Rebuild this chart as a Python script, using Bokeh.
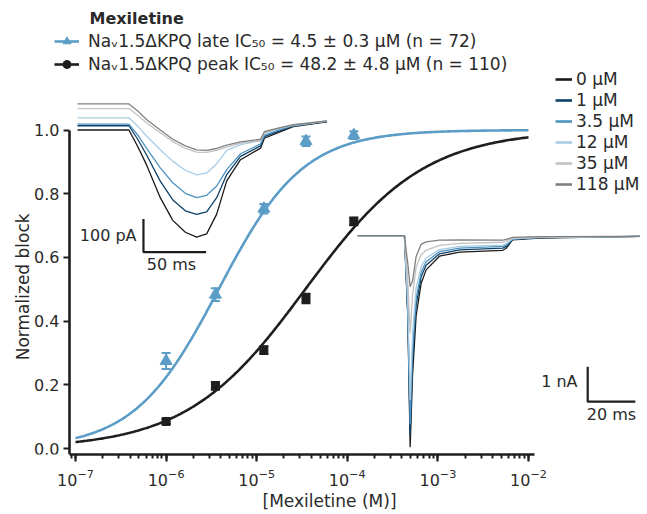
import numpy as np
from bokeh.plotting import figure
from bokeh.models import (Range1d, LinearScale, FixedTicker, LogTicker, Label, Title,
                          Legend, LegendItem, PrintfTickFormatter)
from bokeh.embed import file_html
from bokeh.resources import INLINE

# ---------------- data ----------------
conc_M = [1e-6, 3.5e-6, 12e-6, 35e-6, 118e-6]
late_block = [0.275, 0.483, 0.753, 0.965, 0.984]
late_err = [0.025, 0.02, 0.015, 0.015, 0.012]
peak_block = [0.085, 0.197, 0.309, 0.471, 0.713]
peak_err = [0.008, 0.012, 0.012, 0.015, 0.012]

# Hill fit parameters
late_fit_ic50, late_fit_n = 3.8e-6, 0.93
peak_fit_ic50, peak_fit_n = 3.44e-5, 0.662

legend_title = "Mexiletine"
late_label = "Naᵥ1.5ΔKPQ late IC₅₀ = 4.5 ± 0.3 µM (n = 72)"
peak_label = "Naᵥ1.5ΔKPQ peak IC₅₀ = 48.2 ± 4.8 µM (n = 110)"
y_title = "Normalized block"
x_title = "[Mexiletine (M)]"

trace_labels = ["0 µM", "1 µM", "3.5 µM", "12 µM", "35 µM", "118 µM"]
trace_colors = ["#1a1a1a", "#0e4168", "#4f93c0", "#a8cde4", "#c2c2c2", "#808080"]

# late-current traces (ms, pA)
late_t = [0, 41, 48, 55, 66, 76, 86, 95, 103, 111, 119, 130, 146, 149, 160, 172, 199]
late_I = [
    [0, 0, -50, -105, -205, -274, -310, -325, -315, -255, -154, -90, -55, -25, -8, 10, 25],
    [13, 13, -28, -75, -155, -212, -245, -256, -248, -205, -135, -80, -48, -20, -4, 12, 26],
    [18, 18, -15, -55, -115, -160, -192, -205, -198, -170, -120, -72, -42, -16, 0, 13, 26],
    [37, 37, 12, -18, -60, -95, -122, -136, -130, -102, -62, -44, -32, -10, 4, 14, 27],
    [65, 65, 45, 22, -8, -35, -56, -67, -68, -62, -52, -40, -32, -8, 5, 15, 28],
    [79, 79, 58, 32, 0, -28, -48, -60, -62, -56, -46, -36, -28, -5, 6, 16, 28],
]

# peak-current traces (ms, nA)
peak_t = [0, 19.6, 21.0, 22.0, 23.0, 24.5, 26.6, 28.7, 34.3, 42.8, 60.9, 62.4, 65.0, 76.3, 121.0]
peak_I = [
    [0, 0, -2.3, -6.05, -4.0, -2.3, -1.37, -0.98, -0.59, -0.47, -0.42, -0.36, -0.12, -0.07, -0.02],
    [0, 0, -2.2, -5.7, -3.6, -2.0, -1.18, -0.85, -0.52, -0.41, -0.36, -0.31, -0.11, -0.06, -0.02],
    [0, 0, -2.1, -5.4, -3.3, -1.8, -1.05, -0.75, -0.46, -0.36, -0.31, -0.27, -0.10, -0.06, -0.02],
    [0, 0, -1.9, -4.7, -2.8, -1.5, -0.90, -0.64, -0.40, -0.31, -0.27, -0.23, -0.09, -0.05, -0.02],
    [0, 0, -1.3, -2.8, -1.7, -0.9, -0.55, -0.42, -0.28, -0.22, -0.19, -0.16, -0.07, -0.04, -0.02],
    [0, 0, -0.8, -1.46, -1.3, -0.6, -0.25, -0.18, -0.13, -0.12, -0.13, -0.11, -0.05, -0.03, -0.02],
]

bar1_pA, bar1_ms = 100, 50
bar2_nA, bar2_ms = 1, 20

# ---------------- layout (page pixels) ----------------
ORG = 1                                      # page position of the figure origin
W, H = 640, 510
F_L, F_T, F_B = ORG, 8, 459.3                # frame edges on the page
F_R = ORG + W
AX_L = 70                                    # where the y axis line is drawn
X0_PX, DEC_PX = 76, 90.6                     # 1e-7 position, pixels per decade
Y0_PX, UNIT_PX = 453.3, 321.6                # y=0 position, pixels per unit

def lin_range(px0, scale, lo, hi):
    return Range1d((lo - px0) / scale, (hi - px0) / scale)

def x_at(px):
    return 10 ** (-7 + (px - X0_PX) / DEC_PX)

x_start, x_end = x_at(F_L), x_at(F_R)
y_start = (Y0_PX - F_B) / UNIT_PX
y_end = (Y0_PX - F_T) / UNIT_PX

FONT = "DejaVu Sans"
TXT = "#2a2a2a"
BLUE = "#5b9dc6"
BLACK = "#1e1e1e"

p = figure(width=W, height=H, x_axis_type="log",
           x_range=Range1d(x_start, x_end), y_range=Range1d(y_start, y_end),
           output_backend="svg", toolbar_location=None,
           min_border_left=F_L - ORG, min_border_right=0, min_border_top=F_T - ORG,
           min_border_bottom=int(round(ORG + H - F_B)))
p.outline_line_color = None
p.grid.visible = False
p.background_fill_color = "white"

# inset 1: page x = 78 + 1.254*t ; page y = 131.7 - 0.333*I
# inset 2: page x = 358.3 + 2.38*t ; page y = 238.3 - 35.3*I
p.extra_x_ranges = {
    "px": Range1d(F_L, F_R),
    "t1": lin_range(78, 1.254, F_L, F_R),
    "t2": lin_range(358.3, 2.38, F_L, F_R),
}
p.extra_y_ranges = {
    "py": Range1d(F_B, F_T),
    "i1": Range1d((131.7 - F_B) / 0.333, (131.7 - F_T) / 0.333),
    "i2": Range1d((238.3 - F_B) / 35.3, (238.3 - F_T) / 35.3),
}
p.extra_x_scales = {"px": LinearScale(), "t1": LinearScale(), "t2": LinearScale()}
p.extra_y_scales = {"py": LinearScale(), "i1": LinearScale(), "i2": LinearScale()}

# ---------------- traces ----------------
for I, c in zip(late_I, trace_colors):
    p.line(late_t, I, line_color=c, line_width=1.3, x_range_name="t1", y_range_name="i1")
for I, c in zip(peak_I, trace_colors):
    p.line(peak_t, I, line_color=c, line_width=1.3, x_range_name="t2", y_range_name="i2")

# scale bars
sb1_t, sb1_i = 52.6, -370
p.line([sb1_t, sb1_t, sb1_t + bar1_ms], [sb1_i + bar1_pA, sb1_i, sb1_i],
       line_color=BLACK, line_width=2.2, x_range_name="t1", y_range_name="i1")
sb2_t, sb2_i = 96.6, -4.75
p.line([sb2_t, sb2_t, sb2_t + bar2_ms], [sb2_i + bar2_nA, sb2_i, sb2_i],
       line_color=BLACK, line_width=2.2, x_range_name="t2", y_range_name="i2")

# ---------------- fits ----------------
xs = np.logspace(-7, -2, 300)
late_fit = 1.0 / (1.0 + (late_fit_ic50 / xs) ** late_fit_n)
peak_fit = 1.0 / (1.0 + (peak_fit_ic50 / xs) ** peak_fit_n)
p.line(xs, peak_fit, line_color=BLACK, line_width=2.6)
p.line(xs, late_fit, line_color=BLUE, line_width=2.6)

# ---------------- data points with error bars ----------------
for yv, ev, col in ((late_block, late_err, BLUE), (peak_block, peak_err, BLACK)):
    lo = [a - b for a, b in zip(yv, ev)]
    hi = [a + b for a, b in zip(yv, ev)]
    p.segment(conc_M, lo, conc_M, hi, line_color=col, line_width=2)
    p.scatter(conc_M, lo, marker="dash", size=9, line_color=col, line_width=2)
    p.scatter(conc_M, hi, marker="dash", size=9, line_color=col, line_width=2)
p.scatter(conc_M, late_block, marker="triangle", size=12, fill_color=BLUE, line_color=BLUE)
p.scatter(conc_M, peak_block, marker="square", size=8, fill_color=BLACK, line_color=BLACK)

# ---------------- axes ----------------
xa = p.xaxis[0]
xa.ticker = LogTicker(num_minor_ticks=10)
xa.bounds = (x_at(AX_L), 10 ** (-2 + 6 / DEC_PX))
ya = p.yaxis[0]
ya.ticker = FixedTicker(ticks=[0, 0.2, 0.4, 0.6, 0.8, 1.0], minor_ticks=[])
ya.formatter = PrintfTickFormatter(format="%.1f")
ya.bounds = (y_start, 1.0)
ya.fixed_location = x_at(AX_L)
for ax in (xa, ya):
    ax.axis_line_width = 2.6
    ax.axis_line_color = BLACK
    ax.major_tick_line_width = 2.2
    ax.minor_tick_line_width = 2.0
    ax.major_tick_line_color = BLACK
    ax.minor_tick_line_color = BLACK
    ax.major_tick_in = 0
    ax.minor_tick_in = 0
    ax.major_label_text_font = FONT
    ax.major_label_text_font_size = "16px"
    ax.major_label_text_color = TXT
xa.major_tick_out = 7
xa.minor_tick_out = 4
xa.major_label_standoff = 7
ya.major_tick_out = 6
ya.major_label_standoff = 4

# x axis title as an offset title so it sits where the reference has it
p.add_layout(Title(text=x_title, align="left", offset=263 - F_L,
                   text_font=FONT, text_font_size="17px", text_font_style="normal",
                   text_color=TXT, standoff=0), "below")

def px_label(text, x, y, align="left", size="16px", style="normal", angle=0.0):
    p.add_layout(Label(x=x, y=y, text=text, x_range_name="px", y_range_name="py",
                       text_align=align, text_baseline="middle", angle=angle,
                       text_font=FONT, text_font_size=size, text_font_style=style,
                       text_color=TXT))

px_label(y_title, 23, 290, align="center", size="17px", angle=np.pi / 2)
px_label(legend_title, 90, 19, style="bold")
px_label("100 pA", 137, 238, align="right")
px_label("50 ms", 172, 267, align="center")
px_label("1 nA", 578, 386, align="right")
px_label("20 ms", 612, 419, align="center")

# ---------------- legends ----------------
# legend-only renderers, kept off the visible area
OFF_X, OFF_Y = [1e-12, 2e-12], [-5, -5]
leg_peak_line = p.line(OFF_X, OFF_Y, line_color=BLACK, line_width=2.6)
leg_peak_mark = p.scatter(OFF_X[:1], OFF_Y[:1], marker="circle", size=9,
                          fill_color=BLACK, line_color=BLACK)
leg_late_line = p.line(OFF_X, OFF_Y, line_color=BLUE, line_width=2.6)
leg_late_mark = p.scatter(OFF_X[:1], OFF_Y[:1], marker="triangle", size=10,
                          fill_color=BLUE, line_color=BLUE)

top_leg = Legend(items=[LegendItem(label=late_label, renderers=[leg_late_line, leg_late_mark]),
                        LegendItem(label=peak_label, renderers=[leg_peak_line, leg_peak_mark])],
                 location=(55 - F_L, F_B - 79), orientation="vertical",
                 glyph_width=25, glyph_height=20, label_height=20, spacing=3,
                 label_standoff=9, padding=0, margin=0,
                 border_line_color=None, background_fill_alpha=0,
                 label_text_font=FONT, label_text_font_size="17px", label_text_color=TXT)
p.add_layout(top_leg, "center")

conc_items = []
for lab, c in zip(trace_labels, trace_colors):
    r = p.line(OFF_X, OFF_Y, line_color=c, line_width=2.6)
    conc_items.append(LegendItem(label=lab, renderers=[r]))
conc_leg = Legend(items=conc_items, location=(556 - F_L, F_B - 199),
                  glyph_width=17, glyph_height=20, label_height=20, spacing=1,
                  label_standoff=4, padding=0, margin=0,
                  border_line_color=None, background_fill_alpha=0,
                  label_text_font=FONT, label_text_font_size="17px", label_text_color=TXT)
p.add_layout(conc_leg, "center")

open("out.html", "w").write(file_html(p, INLINE))
